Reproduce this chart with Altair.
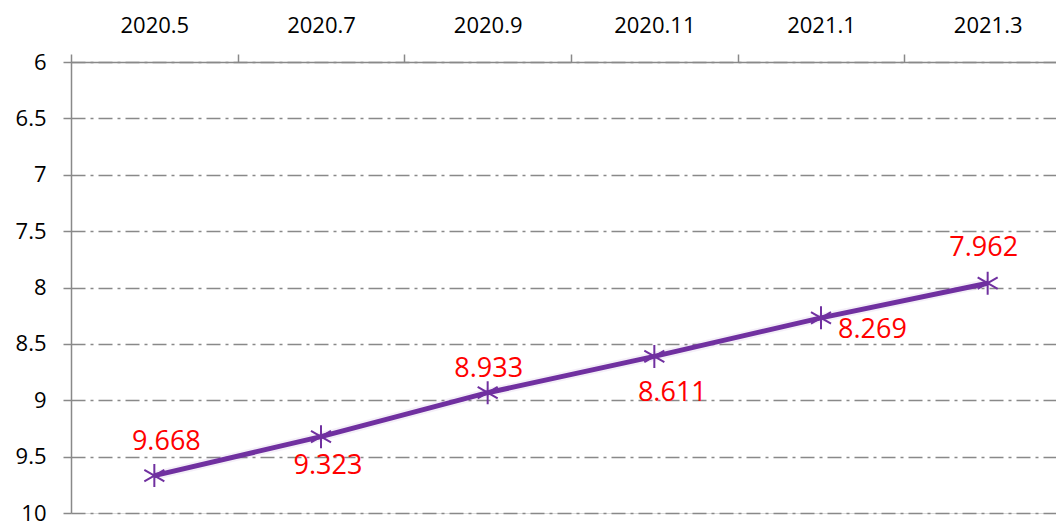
import altair as alt
import pandas as pd

months = ["2020.5", "2020.7", "2020.9", "2020.11", "2021.1", "2021.3"]
values = [9.668, 9.323, 8.933, 8.611, 8.269, 7.962]
y_ticks = [6, 6.5, 7, 7.5, 8, 8.5, 9, 9.5, 10]

df = pd.DataFrame({"month": months, "value": values, "label": [f"{v:.3f}" for v in values]})

FONT = "Open Sans"
GREY = "#898989"

x = alt.X("month:N", sort=months, title=None,
          scale=alt.Scale(paddingInner=0, paddingOuter=0, range=[0, 1000]),
          axis=alt.Axis(orient="top", labelAngle=0, labelFontSize=22, labelColor="#000000",
                        labelFont=FONT, labelFontWeight="normal", labelPadding=17,
                        domain=True, domainColor=GREY, domainWidth=1.5,
                        ticks=True, tickBand="extent", tickSize=8, tickColor=GREY,
                        tickWidth=1.5, grid=False))
y = alt.Y("value:Q", title=None,
          scale=alt.Scale(domain=[6, 10], reverse=True, nice=False, zero=False),
          axis=alt.Axis(values=y_ticks, format="~g", labelFontSize=22,
                        labelColor="#000000", labelFont=FONT, labelPadding=17,
                        domain=True, domainColor=GREY, domainWidth=1.5,
                        tickSize=8, tickColor=GREY, tickWidth=1.5,
                        grid=True, gridColor=GREY, gridWidth=1.5,
                        gridDash=[14, 5, 3, 5]))

base = alt.Chart(df)

shadow = base.mark_line(color="#7030A0", strokeWidth=9, opacity=0.08, dx=2, dy=3).encode(
    x=x, y=y)
line = base.mark_line(color="#7030A0", strokeWidth=5).encode(x=x, y=y)

star = "M0,-1L0,1M-0.87,-0.5L0.87,0.5M-0.87,0.5L0.87,-0.5"
pts = base.mark_point(shape=star, size=530, color="#7030A0", strokeWidth=2, filled=False,
                      opacity=1).encode(x=x, y=y)


def lab(name, dx, dy, align="center"):
    return base.transform_filter(
        alt.FieldEqualPredicate(field="month", equal=name)
    ).mark_text(color="#FF0000", fontSize=27, font=FONT, dx=dx, dy=dy,
                align=align, baseline="middle").encode(x=x, y=y, text="label:N")


labels = [
    lab("2020.5", 12, -34),
    lab("2020.7", 7, 29),
    lab("2020.9", 1, -24),
    lab("2020.11", 18, 37),
    lab("2021.1", 17, 12, "left"),
    lab("2021.3", -4, -35),
]

chart = alt.layer(shadow, line, pts, *labels).properties(
    width=985, height=451,
    autosize=alt.AutoSizeParams(type="none"),
    padding={"left": 63, "top": 54, "right": 0, "bottom": 10},
).configure_view(stroke=None).configure(background="#ffffff")

chart.save("out.html", embed_options={"renderer": "svg", "actions": False})
